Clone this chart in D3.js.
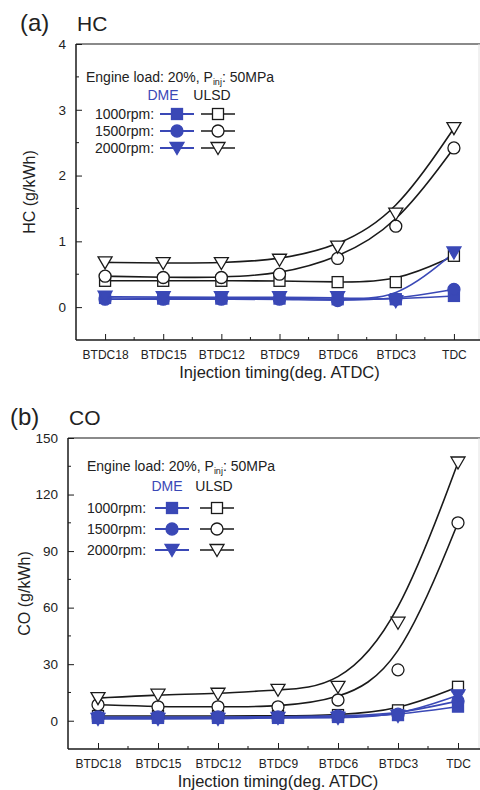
<!DOCTYPE html>
<html><head><meta charset="utf-8">
<script src="https://cdn.jsdelivr.net/npm/d3@7"></script>
<style>body{margin:0;background:#fff}svg{display:block;font-family:"Liberation Sans",Arial,sans-serif}</style>
</head><body><svg id="c" width="480" height="790"></svg>
<script>
const categories = ["BTDC18","BTDC15","BTDC12","BTDC9","BTDC6","BTDC3","TDC"];
// HC (g/kWh)
const hcDME1000 = [0.14,0.13,0.13,0.13,0.12,0.12,0.17];
const hcDME1500 = [0.12,0.12,0.12,0.12,0.10,0.12,0.27];
const hcDME2000 = [0.16,0.15,0.15,0.15,0.15,0.09,0.83];
const hcULSD1000 = [0.40,0.40,0.40,0.40,0.38,0.38,0.78];
const hcULSD1500 = [0.47,0.45,0.45,0.50,0.74,1.23,2.42];
const hcULSD2000 = [0.68,0.67,0.67,0.72,0.92,1.42,2.72];
const hcTicks = [0,1,2,3,4];
// CO (g/kWh)
const coDME1000 = [1.5,1.5,1.5,1.5,2.0,3.0,7.5];
const coDME1500 = [2.0,2.0,2.0,2.0,2.5,3.5,10.5];
const coDME2000 = [1.0,1.0,1.0,1.5,1.5,2.5,13.5];
const coULSD1000 = [2.5,2.5,2.5,2.5,3.0,5.5,18.0];
const coULSD1500 = [8.5,7.4,7.4,7.4,11,27,105];
const coULSD2000 = [12,13.8,14.3,16.4,18,52,137];
const coTicks = [0,30,60,90,120,150];

const BLUE = "#3a48b6", BLACK = "#1a1a1a", TXT = "#222";
const svg = d3.select("#c");

function panel(cfg){
  const g = svg.append("g");
  const x = d3.scalePoint().domain(categories).range([cfg.x0, cfg.x1]).padding(0.5);
  const y = d3.scaleLinear().domain(cfg.ydom).range([cfg.y1, cfg.y0]);
  // frame
  g.append("line").attr("x1",cfg.x0).attr("x2",480).attr("y1",cfg.y0).attr("y2",cfg.y0).attr("stroke","#8a8a8a").attr("stroke-width",2);
  g.append("line").attr("x1",479).attr("x2",479).attr("y1",cfg.y0).attr("y2",cfg.y1).attr("stroke","#e2e2e2").attr("stroke-width",1);
  // y axis
  const ya = d3.axisLeft(y).tickValues(cfg.yticks).tickSize(-6).tickPadding(10).tickFormat(d3.format("d"));
  const yag = g.append("g").attr("transform",`translate(${cfg.x0},0)`).call(ya);
  yag.select(".domain").remove();
  yag.selectAll("text").attr("font-size",13.5).attr("fill",TXT).attr("font-family","Liberation Sans, Arial, sans-serif");
  yag.selectAll("line").attr("stroke",BLACK);
  const minorY = cfg.yticks.slice(0,-1).map((v,i)=>(v+cfg.yticks[i+1])/2);
  g.selectAll(".my").data(minorY).join("line").attr("x1",cfg.x0).attr("x2",cfg.x0+3).attr("y1",d=>y(d)).attr("y2",d=>y(d)).attr("stroke",BLACK);
  // x axis
  const xa = d3.axisBottom(x).tickSize(-6).tickPadding(10);
  const xag = g.append("g").attr("transform",`translate(0,${cfg.y1})`).call(xa);
  xag.select(".domain").remove();
  xag.selectAll("text").attr("font-size",12).attr("fill",TXT).attr("font-family","Liberation Sans, Arial, sans-serif");
  xag.selectAll("line").attr("stroke",BLACK);
  const step = x.step();
  g.selectAll(".mx").data(categories.slice(0,-1)).join("line").attr("x1",d=>x(d)+step/2).attr("x2",d=>x(d)+step/2).attr("y1",cfg.y1).attr("y2",cfg.y1-3).attr("stroke",BLACK);
  g.append("line").attr("x1",cfg.x0).attr("x2",cfg.x0).attr("y1",cfg.y0).attr("y2",cfg.y1).attr("stroke",BLACK).attr("stroke-width",1.5);
  g.append("line").attr("x1",cfg.x0).attr("x2",480).attr("y1",cfg.y1).attr("y2",cfg.y1).attr("stroke",BLACK).attr("stroke-width",1.5);
  // titles
  const ly = (cfg.y0+cfg.y1)/2;
  g.append("text").attr("x",cfg.lx).attr("y",ly).attr("transform",`rotate(-90,${cfg.lx},${ly})`)
    .attr("text-anchor","middle").attr("font-size",16).attr("fill",TXT).text(cfg.ylabel);
  g.append("text").attr("x",(x(categories[0])+x(categories[6]))/2).attr("y",cfg.y1+38).attr("text-anchor","middle").attr("font-size",16.5).attr("fill",TXT).text("Injection timing(deg. ATDC)");
  g.append("text").attr("x",cfg.tagX).attr("y",cfg.y0-13).attr("font-size",24).attr("fill",TXT).text(cfg.tag);
  g.append("text").attr("x",cfg.x0+1).attr("y",cfg.y0-13).attr("font-size",21).attr("fill",TXT).text(cfg.name);

  const line = d3.line().x((d,i)=>x(categories[i])).y(d=>y(d)).curve(d3.curveBasis);
  cfg.series.forEach(s=>{
    g.append("path").attr("d",line(s.values)).attr("fill","none").attr("stroke",s.dme?BLUE:BLACK).attr("stroke-width",1.6);
  });
  cfg.series.forEach(s=>{
    s.values.forEach((v,i)=>drawMarker(g, x(categories[i]), y(v), s.shape, s.dme));
  });
  // legend
  const L = cfg.legend;
  const t = g.append("text").attr("x",L.x).attr("y",L.y).attr("font-size",14).attr("fill",TXT);
  t.append("tspan").attr("fill",TXT).text("Engine load: 20%, P");
  t.append("tspan").attr("fill",TXT).attr("font-size",9).attr("dy",3).text("inj");
  t.append("tspan").attr("fill",TXT).attr("dy",-3).text(": 50MPa");
  g.append("text").attr("x",L.dmeT).attr("y",L.hy).attr("font-size",14).attr("fill",BLUE).attr("text-anchor","middle").text("DME");
  g.append("text").attr("x",L.ulT).attr("y",L.hy).attr("font-size",14).attr("fill",TXT).attr("text-anchor","middle").text("ULSD");
  const labels = ["1000rpm:","1500rpm:","2000rpm:"], shapes=["square","circle","triangle"];
  labels.forEach((lab,i)=>{
    const yy = L.rows[i];
    g.append("text").attr("x",L.lx).attr("y",yy+5).attr("font-size",14).attr("fill",TXT).text(lab);
    g.append("line").attr("x1",L.dmeX-17).attr("x2",L.dmeX+17).attr("y1",yy).attr("y2",yy).attr("stroke",BLUE).attr("stroke-width",2);
    drawMarker(g,L.dmeX,yy,shapes[i],true);
    g.append("line").attr("x1",L.ulX-17).attr("x2",L.ulX+17).attr("y1",yy).attr("y2",yy).attr("stroke",BLACK).attr("stroke-width",1.5);
    drawMarker(g,L.ulX,yy,shapes[i],false);
  });
}

function drawMarker(g, cx, cy, shape, dme){
  const fill = dme?BLUE:"#fff", stroke = dme?BLUE:BLACK;
  let m;
  if(shape==="square") m = g.append("rect").attr("x",cx-5.5).attr("y",cy-5.5).attr("width",11).attr("height",11);
  else if(shape==="circle") m = g.append("circle").attr("cx",cx).attr("cy",cy).attr("r",6);
  else m = g.append("path").attr("d",`M${cx-7},${cy-5.5}L${cx+7},${cy-5.5}L${cx},${cy+6.5}Z`);
  m.attr("fill",fill).attr("stroke",stroke).attr("stroke-width",1.3);
}

panel({x0:76,x1:483,y0:44,y1:340,ydom:[-0.5,4],yticks:hcTicks,ylabel:"HC (g/kWh)",tag:"(a)",tagX:20,name:"HC",lx:35,
  series:[
    {values:hcULSD1000,shape:"square",dme:false},{values:hcULSD1500,shape:"circle",dme:false},{values:hcULSD2000,shape:"triangle",dme:false},
    {values:hcDME1000,shape:"square",dme:true},{values:hcDME1500,shape:"circle",dme:true},{values:hcDME2000,shape:"triangle",dme:true}],
  legend:{x:86,y:82,dmeT:163,ulT:212,hy:100,dmeX:177,ulX:218,lx:95,rows:[114,131,148]}});
panel({x0:68,x1:488,y0:438,y1:749,ydom:[-15,150],yticks:coTicks,ylabel:"CO (g/kWh)",tag:"(b)",tagX:10,name:"CO",lx:30,
  series:[
    {values:coULSD1000,shape:"square",dme:false},{values:coULSD1500,shape:"circle",dme:false},{values:coULSD2000,shape:"triangle",dme:false},
    {values:coDME1000,shape:"square",dme:true},{values:coDME1500,shape:"circle",dme:true},{values:coDME2000,shape:"triangle",dme:true}],
  legend:{x:87,y:471,dmeT:167,ulT:214,hy:491,dmeX:172,ulX:217,lx:87,rows:[508,529,550]}});
</script></body></html>
